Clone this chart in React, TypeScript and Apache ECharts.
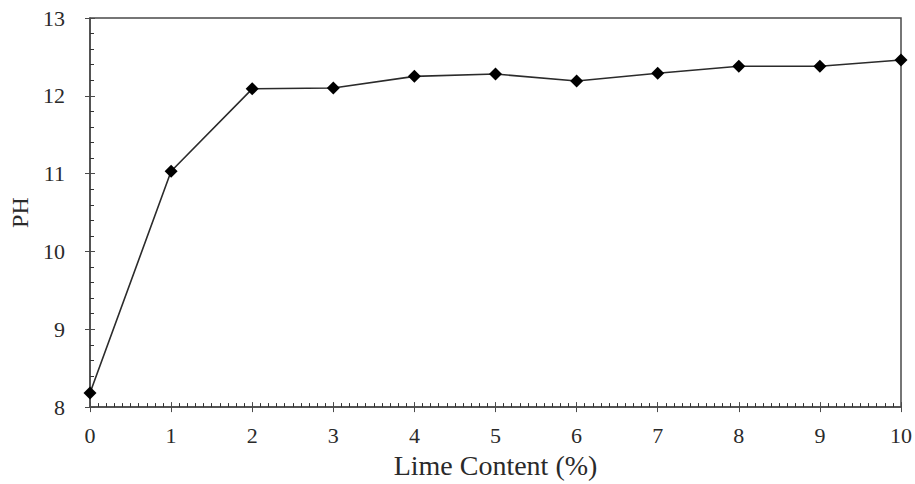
import React, { useEffect, useRef } from "react";
import * as echarts from "echarts";

const limeContent = [0, 1, 2, 3, 4, 5, 6, 7, 8, 9, 10];
const phValues = [8.18, 11.03, 12.09, 12.1, 12.25, 12.28, 12.19, 12.29, 12.38, 12.38, 12.46];
const xAxisName = "Lime Content (%)";
const yAxisName = "PH";

export default function App() {
  const ref = useRef<HTMLDivElement>(null);
  useEffect(() => {
    if (!ref.current) return;
    const chart = echarts.init(ref.current, null, { renderer: "svg" });
    const font = "'Liberation Serif', 'DejaVu Serif', serif";
    const axisColor = "#4a4a4a";
    const textColor = "#2a2a2a";
    chart.setOption({
      animation: false,
      backgroundColor: "#ffffff",
      grid: {
        left: 90,
        right: 14,
        top: 18,
        bottom: 74,
        show: true,
        borderColor: axisColor,
        borderWidth: 1.5,
        containLabel: false,
      },
      xAxis: [
        {
          type: "value",
          min: 0,
          max: 10,
          interval: 1,
          name: xAxisName,
          nameLocation: "middle",
          nameGap: 43,
          nameTextStyle: { fontFamily: font, fontSize: 28, color: textColor },
          axisLine: { show: true, lineStyle: { color: axisColor, width: 1.5 } },
          axisTick: { show: true, inside: true, length: 5, lineStyle: { color: axisColor } },
          minorTick: { show: true, splitNumber: 10, length: 4, lineStyle: { color: "#333" } },
          axisLabel: { fontFamily: font, fontSize: 22, color: textColor, margin: 17 },
          splitLine: { show: false },
        },
        {
          type: "value",
          position: "bottom",
          min: 0,
          max: 10,
          interval: 1,
          axisLine: { show: false },
          axisTick: { show: true, inside: false, length: 5, lineStyle: { color: axisColor } },
          axisLabel: { show: false },
          splitLine: { show: false },
        },
      ],
      yAxis: [
        {
          type: "value",
          min: 8,
          max: 13,
          interval: 1,
          name: yAxisName,
          nameLocation: "middle",
          nameGap: 56,
          nameTextStyle: { fontFamily: font, fontSize: 24, color: textColor },
          axisLine: { show: true, lineStyle: { color: axisColor, width: 1.5 } },
          axisTick: { show: true, inside: true, length: 5, lineStyle: { color: axisColor } },
          minorTick: { show: true, splitNumber: 5, length: 4, lineStyle: { color: "#333" } },
          axisLabel: { fontFamily: font, fontSize: 22, color: textColor, margin: 25 },
          splitLine: { show: false },
        },
        {
          type: "value",
          position: "left",
          min: 8,
          max: 13,
          interval: 1,
          axisLine: { show: false },
          axisTick: { show: true, inside: false, length: 5, lineStyle: { color: axisColor } },
          axisLabel: { show: false },
          splitLine: { show: false },
        },
      ],
      series: [
        {
          type: "line",
          data: limeContent.map((x, i) => [x, phValues[i]]),
          symbol: "diamond",
          symbolSize: 13,
          lineStyle: { color: "#2b2b2b", width: 1.6 },
          itemStyle: { color: "#000000" },
        },
      ],
    });
    return () => chart.dispose();
  }, []);
  return <div ref={ref} style={{ width: 915, height: 484, position: "absolute", left: 0, top: 0 }} />;
}
